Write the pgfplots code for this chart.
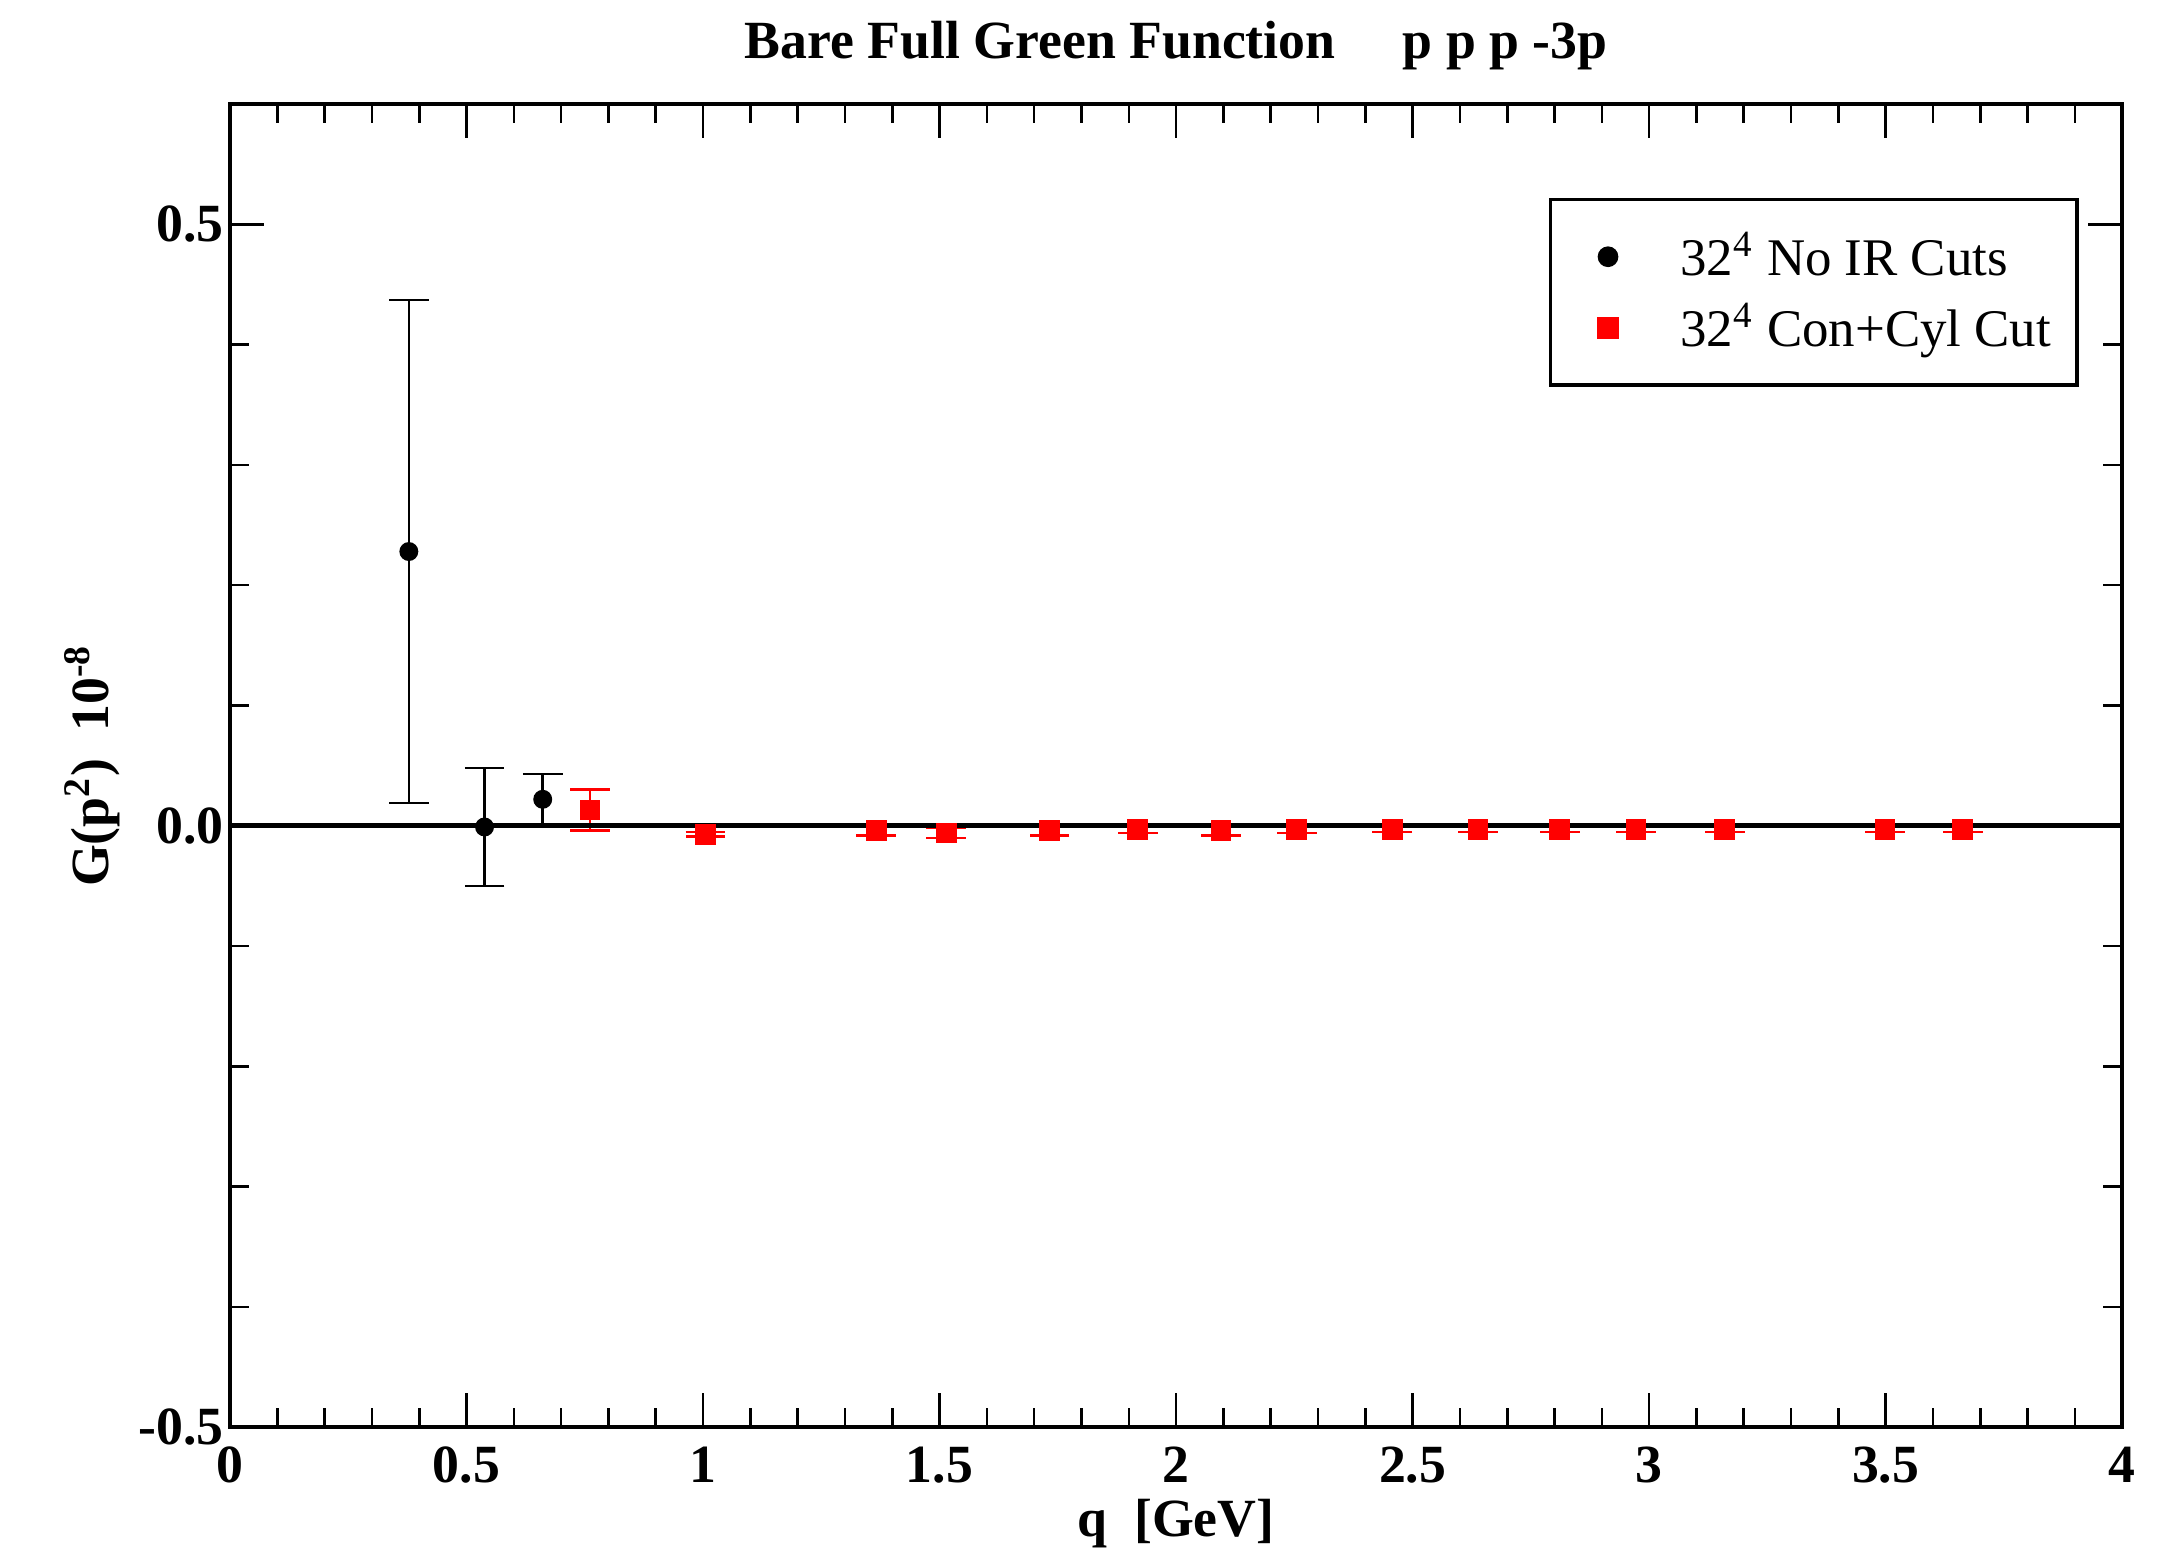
\documentclass[border=0pt]{standalone}
\usepackage{fontspec}
\setmainfont{Liberation Serif}
\usepackage{pgfplots}
\usepackage{pgfplotstable}
\pgfplotsset{compat=1.18}

\pgfplotstableread{
x      y       e
0.378  0.228   0.209
0.538  -0.001  0.049
0.661  0.022   0.021
}\noir

\pgfplotstableread{
x      y       e
0.761  0.013   0.017
1.005  -0.007  0.002
1.366  -0.004  0.004
1.514  -0.006  0.004
1.732  -0.004  0.004
1.919  -0.003  0.003
2.095  -0.004  0.004
2.255  -0.003  0.003
2.457  -0.003  0.002
2.638  -0.003  0.002
2.811  -0.003  0.002
2.972  -0.003  0.002
3.160  -0.003  0.002
3.499  -0.003  0.002
3.663  -0.003  0.002
}\concyl

\begin{document}
\begin{tikzpicture}
\begin{axis}[
  scale only axis,
  width=440pt, height=307.7pt,
  xmin=0, xmax=4, ymin=-0.5, ymax=0.6,
  xtick={0,0.5,1,1.5,2,2.5,3,3.5,4},
  xticklabels={0,0.5,1,1.5,2,2.5,3,3.5,4},
  ytick={-0.5,0,0.5},
  yticklabels={-0.5,0.0,0.5},
  minor xtick={0.1,0.2,0.3,0.4,0.6,0.7,0.8,0.9,1.1,1.2,1.3,1.4,1.6,1.7,1.8,1.9,2.1,2.2,2.3,2.4,2.6,2.7,2.8,2.9,3.1,3.2,3.3,3.4,3.6,3.7,3.8,3.9},
  minor ytick={-0.4,-0.3,-0.2,-0.1,0.1,0.2,0.3,0.4},
  tick align=inside,
  major tick length=8pt,
  minor tick length=4.5pt,
  axis line style={line width=1pt},
  every tick/.style={black, line width=0.6pt},
  ticklabel style={font=\fontsize{12.5}{14}\selectfont\bfseries},
  xticklabel style={yshift=-1pt},
  yticklabel style={xshift=2pt},
  title={Bare Full Green Function\quad\ p p p -3p},
  title style={font=\fontsize{12.5}{14}\selectfont\bfseries, at={(axis description cs:0.5,1)}, anchor=center, yshift=7.5pt},
  xlabel={q\ \ [GeV]},
  xlabel style={font=\fontsize{12.5}{14}\selectfont\bfseries, at={(axis description cs:0.5,-0.073)}, anchor=center},
  ylabel={G(p\textsuperscript{2})\ \ 10\textsuperscript{-8}},
  ylabel style={font=\fontsize{12.5}{14}\selectfont\bfseries, at={(axis description cs:-0.073,0.5)}, anchor=center},
  legend style={at={(rel axis cs:0.977,0.929)}, anchor=north east,
    draw=black, line width=0.8pt, inner xsep=4pt, inner ysep=5.5pt,
    font=\fontsize{12.3}{14}\selectfont, row sep=1pt,
    cells={anchor=west}},
  legend cell align=left,
  legend image code/.code={%
    \path[draw=none] (0cm,0cm) -- (0.85cm,0cm);
    \draw[#1, only marks] plot coordinates {(0.33cm,0cm)};},
]
\addplot[only marks, mark=*, black, mark size=2pt,
  error bars/.cd, y dir=both, y explicit,
  error bar style={line width=0.6pt, black},
  error mark options={rotate=90, mark size=4.6pt, line width=0.6pt, black}]
  table[x=x, y=y, y error=e] {\noir};
\addlegendentry{32\textsuperscript{4} No IR Cuts}
\addplot[only marks, mark=square*, red, mark size=2.2pt,
  error bars/.cd, y dir=both, y explicit,
  error bar style={line width=0.6pt, red},
  error mark options={rotate=90, mark size=4.6pt, line width=0.6pt, red}]
  table[x=x, y=y, y error=e] {\concyl};
\addlegendentry{32\textsuperscript{4} Con+Cyl Cut}
\addplot[black, line width=1.1pt, forget plot] coordinates {(0,0) (4,0)};
\end{axis}
\pgfresetboundingbox
\path (-53.5pt,-31.6pt) rectangle (451.6pt,331.9pt);
\end{tikzpicture}
\end{document}
